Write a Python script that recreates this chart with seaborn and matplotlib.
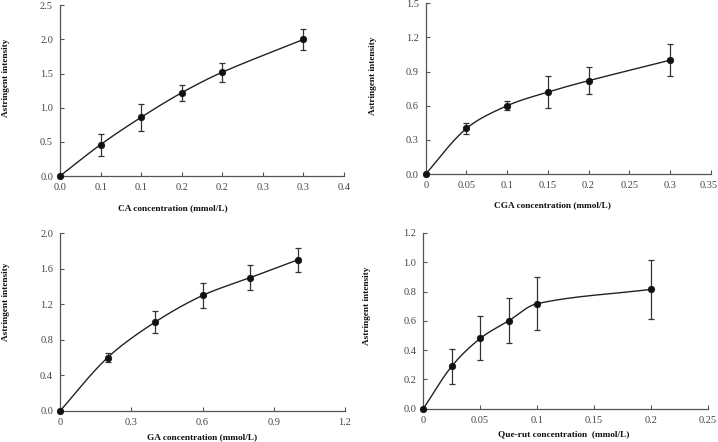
import numpy as np
import pandas as pd
import matplotlib
matplotlib.use("Agg")
import matplotlib.pyplot as plt
import matplotlib.transforms as mtransforms
import seaborn as sns

# ---- data ----
ca_x = [0, 0.05, 0.10, 0.15, 0.20, 0.30]
ca_y = [0, 0.46, 0.86, 1.22, 1.52, 2.00]
ca_err = [0, 0.16, 0.20, 0.12, 0.14, 0.16]
ca_xticks = [0, 0.05, 0.1, 0.15, 0.2, 0.25, 0.3, 0.35]
ca_xticklabels = ["0.0", "0.1", "0.1", "0.2", "0.2", "0.3", "0.3", "0.4"]
ca_yticks = [0.0, 0.5, 1.0, 1.5, 2.0, 2.5]

cga_x = [0, 0.05, 0.10, 0.15, 0.20, 0.30]
cga_y = [0, 0.40, 0.60, 0.72, 0.82, 1.00]
cga_err = [0, 0.05, 0.04, 0.14, 0.12, 0.14]
cga_xticks = [0, 0.05, 0.1, 0.15, 0.2, 0.25, 0.3, 0.35]
cga_xticklabels = ["0", "0.05", "0.1", "0.15", "0.2", "0.25", "0.3", "0.35"]
cga_yticks = [0.0, 0.3, 0.6, 0.9, 1.2, 1.5]

ga_x = [0, 0.2, 0.4, 0.6, 0.8, 1.0]
ga_y = [0, 0.60, 1.00, 1.30, 1.50, 1.70]
ga_err = [0, 0.05, 0.12, 0.14, 0.14, 0.13]
ga_xticks = [0, 0.3, 0.6, 0.9, 1.2]
ga_xticklabels = ["0", "0.3", "0.6", "0.9", "1.2"]
ga_yticks = [0.0, 0.4, 0.8, 1.2, 1.6, 2.0]

qr_x = [0, 0.025, 0.05, 0.075, 0.10, 0.20]
qr_y = [0, 0.29, 0.48, 0.60, 0.717, 0.815]
qr_err = [0, 0.12, 0.15, 0.153, 0.18, 0.20]
qr_xticks = [0, 0.05, 0.1, 0.15, 0.2, 0.25]
qr_xticklabels = ["0", "0.05", "0.1", "0.15", "0.2", "0.25"]
qr_yticks = [0.0, 0.2, 0.4, 0.6, 0.8, 1.0, 1.2]

x_labels = ["CA concentration (mmol/L)", "CGA concentration (mmol/L)",
            "GA concentration (mmol/L)", "Que-rut concentration  (mmol/L)"]
y_label = "Astringent intensity"

sns.set_style("ticks")
plt.rcParams["font.family"] = ["Liberation Serif", "DejaVu Serif"]

W, H = 718, 442
fig = plt.figure(figsize=(W / 100, H / 100), dpi=100)


def smooth(x, y, sx, sy, n=40):
    # Bezier smoothing of the connecting line (display only, passes through the points)
    P = np.column_stack([np.asarray(x, float) * sx, np.asarray(y, float) * sy])
    m = len(P)
    d = np.linalg.norm(np.diff(P, axis=0), axis=1)
    tang = np.zeros_like(P)
    for k in range(m):
        if k == 0:
            tang[k] = (P[1] - P[0])
        elif k == m - 1:
            tang[k] = (P[-1] - P[-2])
        else:
            tang[k] = (P[k + 1] - P[k - 1]) / (d[k - 1] + d[k])
    out = []
    t = np.linspace(0, 1, n)[:, None]
    for k in range(m - 1):
        p1, p2 = P[k], P[k + 1]
        L = d[k]
        t1 = tang[k] if k > 0 else tang[k] / max(d[0], 1e-9)
        t2 = tang[k + 1] if k + 1 < m - 1 else tang[k + 1] / max(d[-1], 1e-9)
        c1 = p1 + t1 * L / 3.0
        c2 = p2 - t2 * L / 3.0
        seg = ((1 - t) ** 3) * p1 + 3 * ((1 - t) ** 2) * t * c1 + 3 * (1 - t) * t ** 2 * c2 + t ** 3 * p2
        out.append(seg if k == 0 else seg[1:])
    S = np.vstack(out)
    return S[:, 0] / sx, S[:, 1] / sy


# pixel boxes: left, right, top, bottom
boxes = [(60, 344, 5.3, 176), (425.7, 710.7, 3.3, 174),
         (60, 345, 233.3, 411), (423.3, 707.7, 233, 408.7)]
xlabel_pos = [(173, 208), (552, 205), (202, 437), (564, 434)]
ylabel_pos = [(6, 78), (373, 76), (6, 302), (367, 306)]

panels = [
    (ca_x, ca_y, ca_err, ca_xticks, ca_xticklabels, ca_yticks),
    (cga_x, cga_y, cga_err, cga_xticks, cga_xticklabels, cga_yticks),
    (ga_x, ga_y, ga_err, ga_xticks, ga_xticklabels, ga_yticks),
    (qr_x, qr_y, qr_err, qr_xticks, qr_xticklabels, qr_yticks),
]

tick_col = "#444444"
axis_col = "#555555"

for i, (xs, ys, es, xt, xtl, yt) in enumerate(panels):
    l, r, t, b = boxes[i]
    ax = fig.add_axes([l / W, (H - b) / H, (r - l) / W, (b - t) / H])
    scx = (r - l) / (xt[-1] - xt[0])
    scy = (b - t) / (yt[-1] - yt[0])
    sx, sy = smooth(xs, ys, scx, scy)
    df_line = pd.DataFrame({"x": sx, "y": sy})
    sns.lineplot(data=df_line, x="x", y="y", ax=ax, color="#222222", lw=1.0, sort=False)
    ax.errorbar(xs, ys, yerr=es, fmt="none", ecolor="#333333", elinewidth=0.9,
                capsize=2.5, capthick=0.9, zorder=3)
    df_pts = pd.DataFrame({"x": xs, "y": ys})
    sns.scatterplot(data=df_pts, x="x", y="y", ax=ax, color="#111111", s=22,
                    edgecolor="#111111", linewidth=0.5, zorder=4, clip_on=False)
    ax.set_xlim(xt[0], xt[-1])
    ax.set_ylim(yt[0], yt[-1])
    ax.set_xticks(xt)
    ax.set_xticklabels(xtl)
    ax.set_yticks(yt)
    ax.set_yticklabels(["{:.1f}".format(v) for v in yt])
    sns.despine(ax=ax)
    for s in ("left", "bottom"):
        ax.spines[s].set_color(axis_col)
        ax.spines[s].set_linewidth(0.9)
    ax.tick_params(direction="in", length=3, width=0.8, color=axis_col,
                   labelsize=7.5, labelcolor=tick_col, pad=5)
    ax.set_xlabel(x_labels[i], fontsize=6.7, fontweight="bold", color="#111111")
    ax.set_ylabel(y_label, fontsize=6.7, fontweight="bold", color="#111111")
    xp, yp = xlabel_pos[i]
    ax.xaxis.set_label_coords(xp / W, 1 - yp / H, transform=fig.transFigure)
    ax.xaxis.label.set_va("center")
    yp2x, yp2y = ylabel_pos[i]
    ax.yaxis.set_label_coords(yp2x / W, 1 - yp2y / H, transform=fig.transFigure)
    ax.yaxis.label.set_va("center")
    ax.patch.set_alpha(0)
    if i == 1:
        last = ax.get_xticklabels()[-1]
        last.set_transform(last.get_transform() +
                           mtransforms.ScaledTranslation(-2.5 / 100, 0, fig.dpi_scale_trans))

fig.savefig("out.png", dpi=100, facecolor="white")
